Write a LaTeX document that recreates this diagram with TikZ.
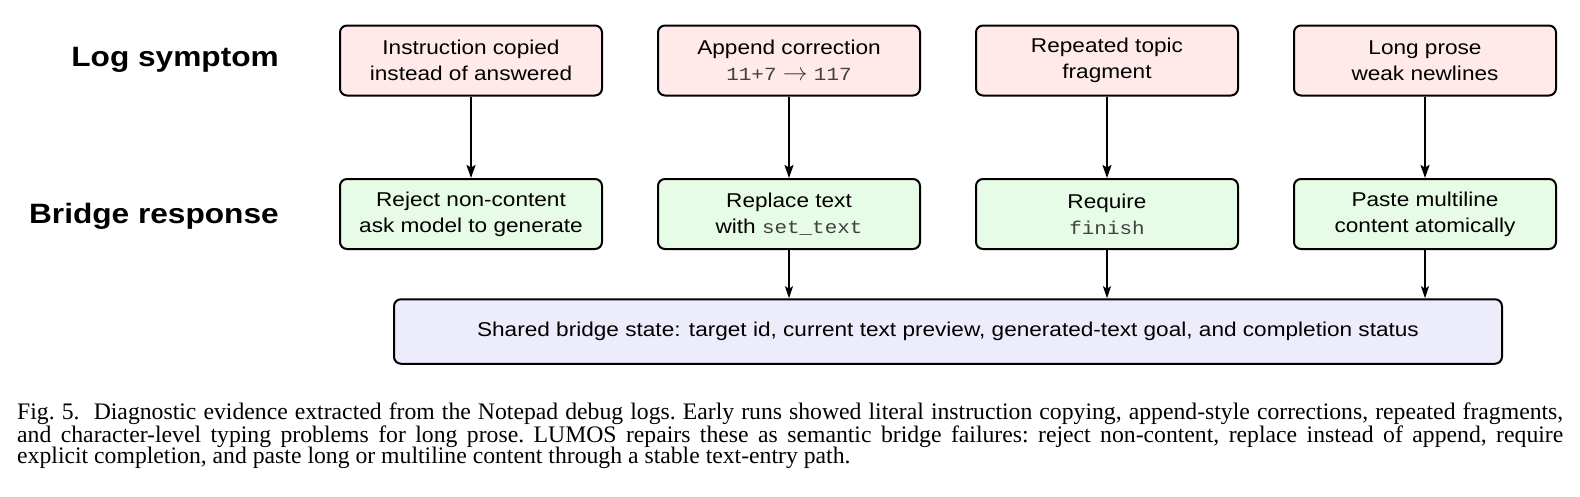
\documentclass[tikz,border=0pt]{standalone}
\usepackage{fontspec}
\setmainfont{Liberation Serif}
\newfontfamily\dfont[FakeStretch=1.13]{Liberation Sans}
\newfontfamily\dmono[FakeStretch=1.13]{Liberation Mono}
\usetikzlibrary{arrows.meta}
\definecolor{sympfill}{HTML}{FFE9E9}
\definecolor{respfill}{HTML}{E7FCE6}
\definecolor{statefill}{HTML}{ECECFB}
\newcommand{\cmono}[1]{{\dmono\fontsize{18.5}{26.3}\selectfont\color{black!75}#1}}
\tikzset{
  box/.style={draw=black, line width=2pt, rounded corners=7pt, minimum width=262pt, minimum height=70pt, align=center, inner sep=0pt, font=\dfont\fontsize{20}{26.3}\selectfont},
  symp/.style={box, fill=sympfill},
  resp/.style={box, fill=respfill},
  statebox/.style={box, fill=statefill, minimum width=1108pt, minimum height=64.5pt},
  rowlabel/.style={anchor=base east, inner sep=0pt, font=\dfont\bfseries\fontsize{28}{30}\selectfont},
  arr/.style={line width=2pt, -{Stealth[length=13pt,width=9pt,inset=2.5pt]}},
  arrb/.style={line width=1.5pt, -{Stealth[length=12pt,width=8pt,inset=2.5pt]}}
}
\begin{document}
\begin{tikzpicture}[x=1pt,y=-1pt]
\useasboundingbox (0,0) rectangle (1580,496);
% row labels
\node[rowlabel] (lab1) at (279,66.7) {Log symptom};
\node[rowlabel] (lab2) at (279,223.3) {Bridge response};
% symptoms
\node[symp] (s1) at (471,60.5) {Instruction copied\\instead of answered};
\node[symp] (s2) at (789,60.5) {Append correction\\\cmono{11+7} {\color{black!75}\fontsize{24}{26}\selectfont$\rightarrow$} \cmono{117}};
\node[symp] (s3) at (1107,60.5) {Repeated topic\\fragment};
\node[symp] (s4) at (1425,60.5) {Long prose\\weak newlines};
% responses
\node[resp] (r1) at (471,214) {Reject non-content\\ask model to generate};
\node[resp] (r2) at (789,214) {Replace text\\with \cmono{set\_text}};
\node[resp] (r3) at (1107,214) {Require\\\cmono{finish}};
\node[resp] (r4) at (1425,214) {Paste multiline\\content atomically};
% shared state
\node[statebox] (st) at (948,331.5) {Shared bridge state: target id, current text preview, generated-text goal, and completion status};
% arrows
\foreach \i in {1,2,3,4} {\draw[arr] (s\i) -- (r\i);}
\foreach \i in {2,3,4} {\draw[arrb] (r\i.south) -- (r\i.south |- st.north);}
% caption
\node[anchor=north west, inner sep=0pt, text width=1546pt, align=justify, font=\fontsize{23.7}{21.7}\selectfont\frenchspacing] (cap) at (17,402.5) {Fig.~5.\hspace{0.6em}Diagnostic evidence extracted from the Notepad debug logs. Early runs showed literal instruction copying, append-style corrections, repeated fragments,\linebreak and character-level typing problems for long prose. LUMOS repairs these as semantic bridge failures: reject non-content, replace instead of append, require\linebreak explicit completion, and paste long or multiline content through a stable text-entry path.};
\end{tikzpicture}
\end{document}
